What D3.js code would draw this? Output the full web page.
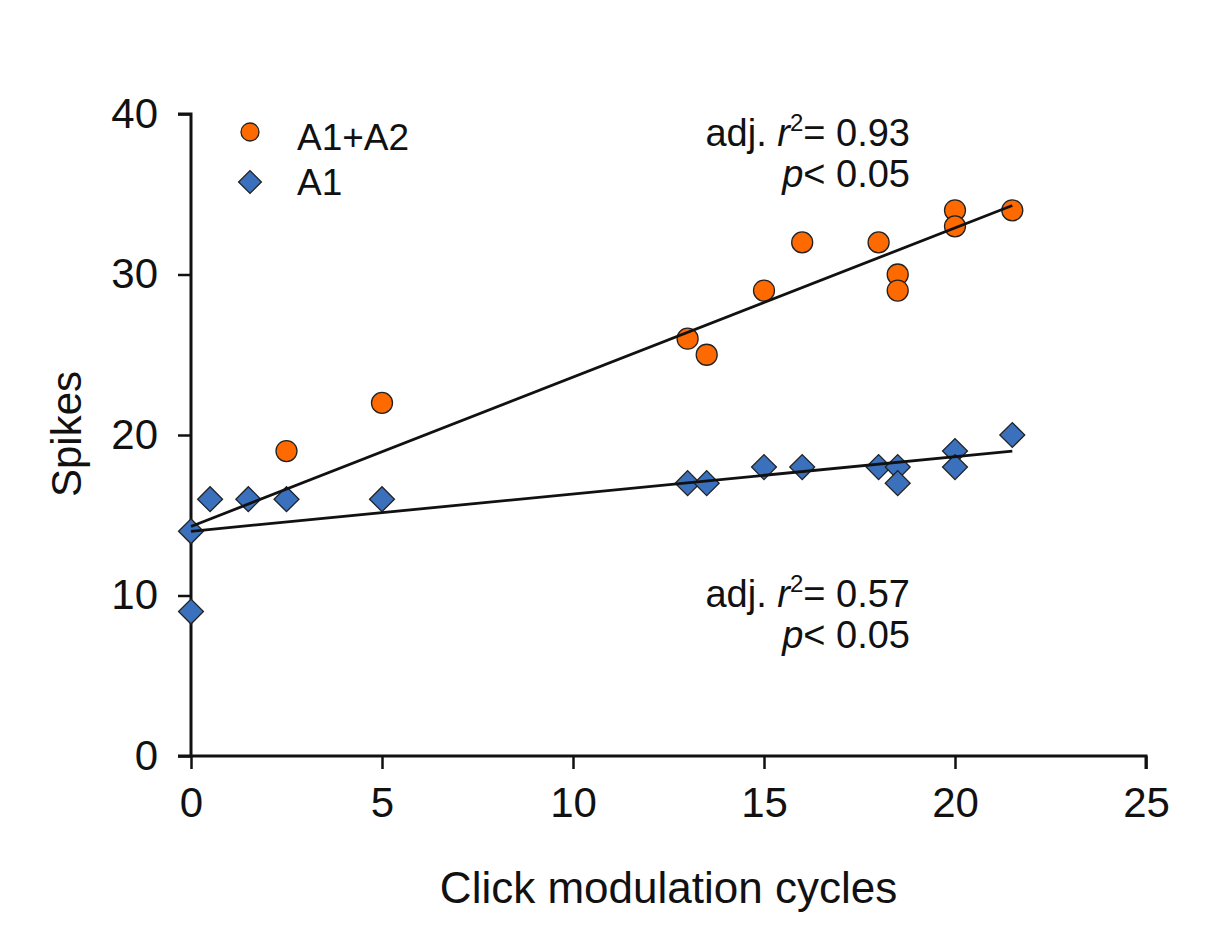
<!DOCTYPE html>
<html>
<head>
<meta charset="utf-8">
<script src="https://cdn.jsdelivr.net/npm/d3@7"></script>
<style>
  body { margin: 0; background: #fff; }
  svg { display: block; font-family: "Liberation Sans", Arial, sans-serif; }
</style>
</head>
<body>
<svg id="chart" width="1231" height="942"></svg>
<script>
const xTicks = [0, 5, 10, 15, 20, 25]
const yTicks = [0, 10, 20, 30, 40]

// A1+A2 (orange circles)
const bothX = [2.5, 5, 13, 13.5, 15, 16, 18, 18.5, 18.5, 20, 20, 21.5]
const bothY = [19, 22, 26, 25, 29, 32, 32, 30, 29, 34, 33, 34]

// A1 (blue diamonds)
const a1X = [0, 0, 0.5, 1.5, 2.5, 5, 13, 13.5, 15, 16, 18, 18.5, 18.5, 20, 20, 21.5]
const a1Y = [14, 9, 16, 16, 16, 16, 17, 17, 18, 18, 18, 18, 17, 19, 18, 20]

// fit lines, endpoints
const fitX = [0, 21.5]
const bothFitY = [14.3, 34.3]
const a1FitY = [14.0, 19.0]

const orange = '#ff6a00'
const blue = '#3a70bc'
const strokeColor = '#111'

var svg = d3.select('#chart')
var x = d3.scaleLinear().domain([0, 25]).range([191, 1146])
var y = d3.scaleLinear().domain([0, 40]).range([756, 114])

var xAxis = svg.append('g')
  .attr('transform', `translate(0,${y(0)})`)
  .call(d3.axisBottom(x).tickValues(xTicks).tickSizeOuter(0).tickSize(13).tickPadding(18))
var yAxis = svg.append('g')
  .attr('transform', `translate(${x(0)},0)`)
  .call(d3.axisLeft(y).tickValues(yTicks).tickSizeOuter(0).tickSize(13).tickPadding(20))

;[xAxis, yAxis].forEach(g => {
  g.select('.domain').attr('stroke', strokeColor).attr('stroke-width', 3)
  g.selectAll('.tick line').attr('stroke', strokeColor).attr('stroke-width', 2.5)
  g.selectAll('.tick text').attr('fill', '#111').style('font-size', '42px')
    .style('font-family', '"Liberation Sans", Arial, sans-serif')
})
// extend the x domain to meet y axis corner
xAxis.select('.domain').attr('d', `M${x(0) - 13},0H${x(25)}V13`)
yAxis.select('.domain').attr('d', `M0,${y(0)}V${y(40)}H-13`)

svg.append('text')
  .attr('x', (x(0) + x(25)) / 2).attr('y', 903)
  .attr('text-anchor', 'middle')
  .style('font-size', '44px').attr('fill', '#111')
  .text('Click modulation cycles')

svg.append('text')
  .attr('transform', 'translate(81,434) rotate(-90)')
  .attr('text-anchor', 'middle')
  .style('font-size', '42px').attr('fill', '#111')
  .text('Spikes')

// markers
var diamond = d3.symbol().type(d3.symbolSquare).size(310)

svg.append('g').selectAll('circle')
  .data(d3.range(bothX.length))
  .join('circle')
  .attr('cx', i => x(bothX[i]))
  .attr('cy', i => y(bothY[i]))
  .attr('r', 10.5)
  .attr('fill', orange)
  .attr('stroke', '#222')
  .attr('stroke-width', 1.3)

svg.append('g').selectAll('path')
  .data(d3.range(a1X.length))
  .join('path')
  .attr('d', diamond)
  .attr('transform', i => `translate(${x(a1X[i])},${y(a1Y[i])}) rotate(45)`)
  .attr('fill', blue)
  .attr('stroke', '#222')
  .attr('stroke-width', 1.3)

// fit lines
var line = d3.line().x(d => x(d[0])).y(d => y(d[1]))
;[bothFitY, a1FitY].forEach(fy => {
  svg.append('path')
    .attr('d', line(fitX.map((v, i) => [v, fy[i]])))
    .attr('stroke', strokeColor)
    .attr('stroke-width', 2.8)
    .attr('fill', 'none')
})

// legend
svg.append('circle').attr('cx', 250).attr('cy', 132).attr('r', 9)
  .attr('fill', orange).attr('stroke', '#222').attr('stroke-width', 1.3)
svg.append('path').attr('d', d3.symbol().type(d3.symbolSquare).size(260))
  .attr('transform', 'translate(250,182) rotate(45)')
  .attr('fill', blue).attr('stroke', '#222').attr('stroke-width', 1.3)
svg.append('text').attr('x', 297).attr('y', 150).style('font-size', '37px').attr('fill', '#111').text('A1+A2')
svg.append('text').attr('x', 297).attr('y', 195).style('font-size', '37px').attr('fill', '#111').text('A1')

// stats annotations
function stats(r2, yTop) {
  var t1 = svg.append('text').attr('x', 910).attr('y', yTop)
    .attr('text-anchor', 'end').style('font-size', '38px').attr('fill', '#111')
  t1.append('tspan').text('adj. ')
  t1.append('tspan').style('font-style', 'italic').text('r')
  t1.append('tspan').attr('dy', -15).style('font-size', '24px').text('2')
  t1.append('tspan').attr('dy', 15).text('= ' + r2)
  var t2 = svg.append('text').attr('x', 910).attr('y', yTop + 41)
    .attr('text-anchor', 'end').style('font-size', '38px').attr('fill', '#111')
  t2.append('tspan').style('font-style', 'italic').text('p')
  t2.append('tspan').text('< 0.05')
}
stats('0.93', 146)
stats('0.57', 607)
</script>
</body>
</html>
